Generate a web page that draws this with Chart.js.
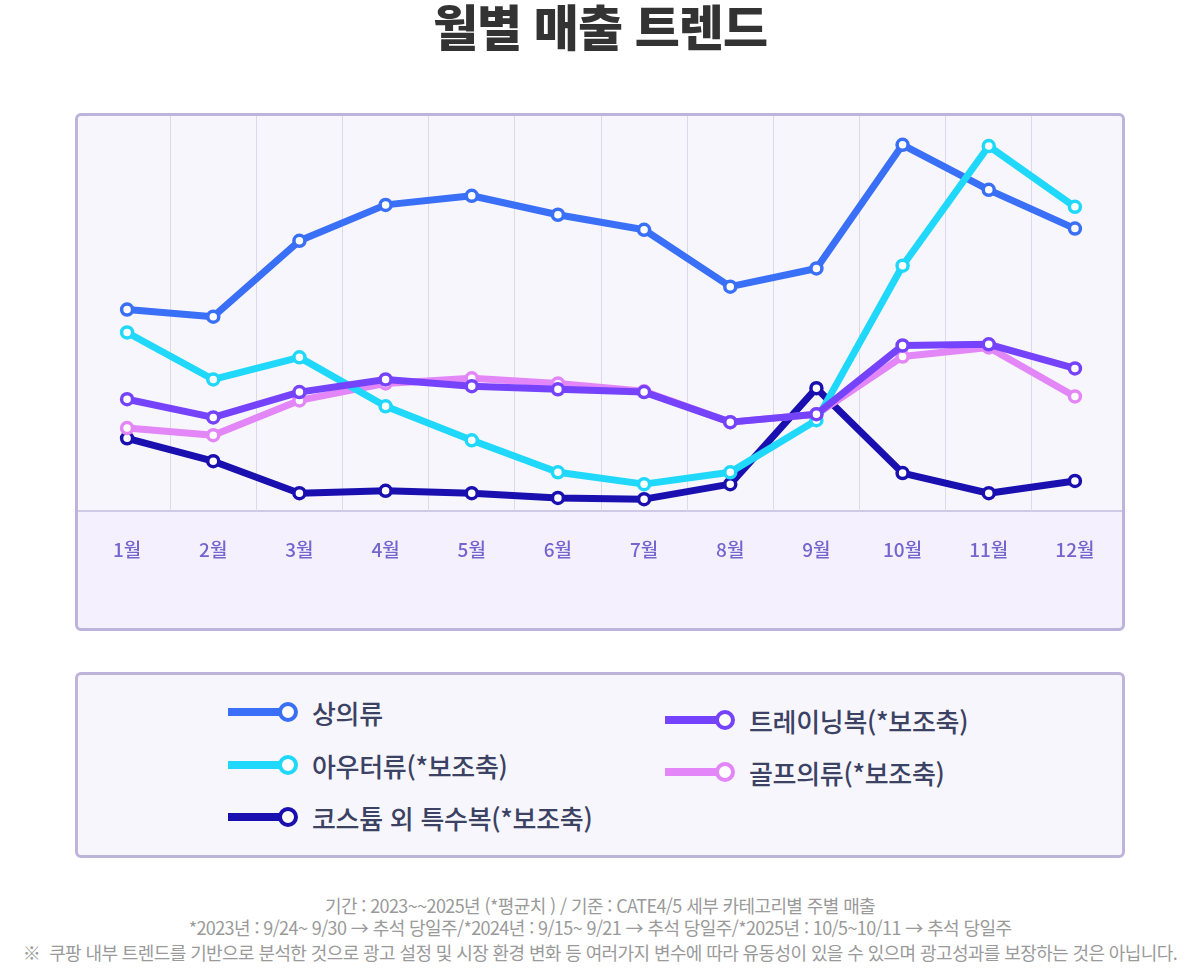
<!DOCTYPE html>
<html lang="ko">
<head>
<meta charset="utf-8">
<script src="https://cdn.jsdelivr.net/npm/chart.js@4.4.1/dist/chart.umd.min.js"></script>
<style>
  body { margin:0; width:1200px; height:968px; background:#fff; position:relative; overflow:hidden;
         font-family:"Noto Sans CJK KR","Noto Sans",sans-serif; }
  .title { position:absolute; left:0; top:-11px; width:1200px; text-align:center; font-size:49px; font-weight:900; color:#333; letter-spacing:-1px; }
  .box { position:absolute; box-sizing:border-box; border:3px solid #bcb4da; border-radius:6px; }
  #chartBox { left:75px; top:113px; width:1050px; height:518px;
    background:linear-gradient(to bottom,#f7f6fc 0,#f7f6fc 394px,#cfc9e6 394px,#cfc9e6 396px,#f4f0fe 396px,#f4f0fe 100%); }
  #chartWrap { position:relative; width:1044px; height:512px; }
  #legendBox { left:75px; top:672px; width:1050px; height:186px; background:#f7f6fc; }
  .item { position:absolute; height:30px; display:flex; align-items:center; }
  .icon { position:relative; width:70px; height:20px; margin-right:14px; }
  .icon .ln { position:absolute; left:0; top:6px; width:60px; height:8px; }
  .icon .dot { position:absolute; left:50px; top:0; width:12px; height:12px; border-radius:50%; border:4px solid; background:#fff; }
  .item span { font-size:26px; font-weight:500; color:#3b4263; letter-spacing:-0.3px; }
  .note { position:absolute; left:0; width:1200px; text-align:center; font-size:18px; color:#9a9a9a; letter-spacing:-0.6px; line-height:26px; }
</style>
</head>
<body>
<div class="title">월별 매출 트렌드</div>
<div class="box" id="chartBox"><div id="chartWrap"><canvas id="lineChart"></canvas></div></div>
<div class="box" id="legendBox"></div>
<div id="legend"></div>
<div class="note" style="top:892px">기간 : 2023~~2025년 (*평균치 ) / 기준 : CATE4/5 세부 카테고리별 주별 매출</div>
<div class="note" style="top:914px">*2023년 : 9/24~ 9/30 → 추석 당일주/*2024년 : 9/15~ 9/21 → 추석 당일주/*2025년 : 10/5~10/11 → 추석 당일주</div>
<div class="note" style="top:939px">※&nbsp; 쿠팡 내부 트렌드를 기반으로 분석한 것으로 광고 설정 및 시장 환경 변화 등 여러가지 변수에 따라 유동성이 있을 수 있으며 광고성과를 보장하는 것은 아닙니다.</div>

<script>
const months = ['1월','2월','3월','4월','5월','6월','7월','8월','9월','10월','11월','12월'];

// 상의류 (주축)
const topsSales     = [51.0, 49.2, 68.4, 77.5, 79.8, 75.0, 71.2, 56.8, 61.4, 92.7, 81.3, 71.5];
// 보조축
const outerSales    = [45.2, 33.3, 38.9, 26.5, 17.9,  9.8,  6.8,  9.8, 23.0, 62.1, 92.4, 77.0];
const costumeSales  = [18.4, 12.6,  4.5,  5.1,  4.5,  3.3,  3.0,  6.8, 31.1,  9.6,  4.5,  7.6];
const trainingSales = [28.3, 23.7, 30.1, 33.3, 31.6, 30.8, 30.1, 22.5, 24.5, 41.9, 42.2, 36.1];
const golfSales     = [21.0, 19.2, 28.0, 32.3, 33.6, 32.3, 30.3, 22.5, 24.5, 39.1, 41.4, 29.0];

const seriesNames  = ['상의류','아우터류(*보조축)','코스튬 외 특수복(*보조축)','트레이닝복(*보조축)','골프의류(*보조축)'];
const seriesColors = ['#3a6ff8','#1fd8fb','#1a10b0','#7443fb','#e386f7'];

function mkSet(i, data, axis, order) {
  return {
    label: seriesNames[i], data, yAxisID: axis, order,
    borderColor: seriesColors[i], backgroundColor: seriesColors[i],
    borderWidth: 7, tension: 0, borderJoinStyle: 'round', borderCapStyle: 'round',
    pointRadius: 5.5, pointBorderWidth: 3.5, pointBackgroundColor: '#fff',
    pointBorderColor: seriesColors[i], clip: false
  };
}

new Chart(document.getElementById('lineChart').getContext('2d'), {
  type: 'line',
  data: {
    labels: months,
    datasets: [
      mkSet(0, topsSales, 'y', 2),
      mkSet(1, outerSales, 'y1', 1),
      mkSet(2, costumeSales, 'y1', 4),
      mkSet(3, trainingSales, 'y1', 0),
      mkSet(4, golfSales, 'y1', 3)
    ]
  },
  options: {
    responsive: true, maintainAspectRatio: false, animation: false,
    layout: { autoPadding: false, padding: { left: 6, right: 4, top: 0, bottom: 0 } },
    plugins: { legend: { display: false }, tooltip: { enabled: false } },
    scales: {
      x: {
        offset: true,
        border: { display: false },
        grid: {
          offset: true, drawTicks: false, lineWidth: 1,
          color: c => (c.index === undefined || c.index === 0) ? 'rgba(0,0,0,0)' : '#dcd9ea'
        },
        ticks: { padding: 27, color: '#7566cf', font: { family: '"Noto Sans CJK KR"', size: 19, weight: '500' } },
        afterFit: s => { s.height = 117; }
      },
      y:  { display: false, min: 0, max: 100 },
      y1: { display: false, min: 0, max: 100 }
    }
  }
});

// legend
const legendPos = [[228, 697], [228, 750], [228, 802], [665, 705], [665, 757]];
const legendEl = document.getElementById('legend');
legendPos.forEach((p, i) => {
  const d = document.createElement('div');
  d.className = 'item';
  d.style.left = p[0] + 'px';
  d.style.top = p[1] + 'px';
  d.innerHTML = `<div class="icon"><div class="ln" style="background:${seriesColors[i]}"></div>` +
    `<div class="dot" style="border-color:${seriesColors[i]}"></div></div><span>${seriesNames[i]}</span>`;
  legendEl.appendChild(d);
});
</script>
</body>
</html>
